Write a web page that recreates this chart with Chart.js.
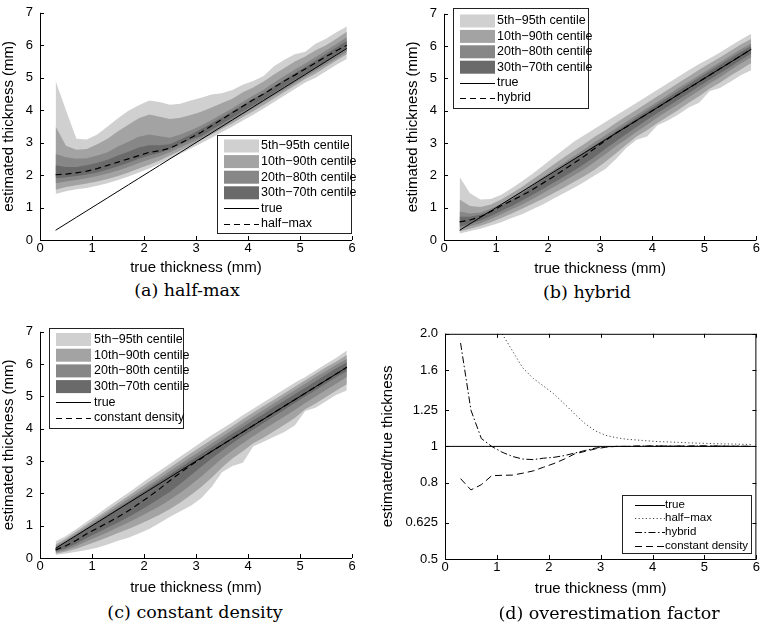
<!DOCTYPE html>
<html>
<head>
<meta charset="utf-8">
<script src="https://cdn.jsdelivr.net/npm/chart.js@4.4.0/dist/chart.umd.min.js"></script>
<style>
  html, body { margin: 0; padding: 0; background: #fff; }
  body { width: 761px; height: 622px; position: relative; overflow: hidden; }
  canvas { position: absolute; }
  .caption { position: absolute; font-family: "DejaVu Serif", "Liberation Serif", serif; font-size: 17.5px; line-height: 20px; color: #000; white-space: nowrap; transform: translateX(-50%); }
</style>
</head>
<body>
<canvas id="chartA"></canvas>
<canvas id="chartB"></canvas>
<canvas id="chartC"></canvas>
<canvas id="chartD"></canvas>
<div class="caption" style="left:187px; top:280px">(a) half-max</div>
<div class="caption" style="left:587px; top:282px">(b) hybrid</div>
<div class="caption" style="left:195px; top:602px">(c) constant density</div>
<div class="caption" style="left:609px; top:603px">(d) overestimation factor</div>
<script>
// ---- data ----
const thickness = [0.3, 0.5, 0.7, 0.9, 1.1, 1.3, 1.5, 1.7, 1.9, 2.1, 2.3, 2.5, 2.7, 2.9, 3.1, 3.3, 3.5, 3.7, 3.9, 4.1, 4.3, 4.5, 4.7, 4.9, 5.1, 5.3, 5.5, 5.7, 5.9];
const xTicks = [0, 1, 2, 3, 4, 5, 6];
const mmTicks = [0, 1, 2, 3, 4, 5, 6, 7];
const ratioTicks = [0.5, 0.625, 0.8, 1, 1.25, 1.6, 2.0];
const ratioTickLabels = ['0.5', '0.625', '0.8', '1', '1.25', '1.6', '2.0'];
const bandLabels = ['5th\u221295th centile', '10th\u221290th centile', '20th\u221280th centile', '30th\u221270th centile'];
const bandColors = ['#d0d0d0', '#a3a3a3', '#878787', '#6a6a6a'];

// (a) half-max
const hmP95 = [4.9, 4.0, 3.12, 3.1, 3.25, 3.5, 3.75, 3.98, 4.15, 4.3, 4.25, 4.17, 4.2, 4.3, 4.38, 4.48, 4.52, 4.62, 4.78, 4.9, 5.05, 5.35, 5.55, 5.72, 5.8, 6.05, 6.2, 6.4, 6.58];
const hmP90 = [3.5, 2.9, 2.78, 2.8, 2.95, 3.12, 3.35, 3.55, 3.75, 3.87, 3.8, 3.73, 3.77, 3.85, 3.95, 4.08, 4.22, 4.35, 4.55, 4.7, 4.88, 5.1, 5.3, 5.5, 5.65, 5.85, 6.0, 6.2, 6.42];
const hmP80 = [2.65, 2.55, 2.5, 2.52, 2.6, 2.7, 2.88, 3.03, 3.18, 3.25, 3.2, 3.15, 3.25, 3.38, 3.53, 3.7, 3.88, 4.06, 4.26, 4.45, 4.63, 4.85, 5.05, 5.25, 5.44, 5.64, 5.84, 6.04, 6.25];
const hmP70 = [2.3, 2.25, 2.25, 2.3, 2.38, 2.47, 2.6, 2.72, 2.85, 2.92, 2.92, 2.95, 3.1, 3.25, 3.42, 3.6, 3.78, 3.97, 4.16, 4.35, 4.53, 4.74, 4.94, 5.14, 5.33, 5.53, 5.73, 5.93, 6.13];
const hmP30 = [1.9, 1.93, 1.97, 2.02, 2.08, 2.17, 2.27, 2.38, 2.5, 2.6, 2.68, 2.8, 2.95, 3.1, 3.2, 3.4, 3.58, 3.77, 3.96, 4.15, 4.34, 4.54, 4.74, 4.93, 5.12, 5.31, 5.5, 5.7, 5.9];
const hmP20 = [1.75, 1.8, 1.85, 1.9, 1.97, 2.05, 2.14, 2.25, 2.37, 2.48, 2.58, 2.7, 2.86, 3.0, 3.14, 3.32, 3.5, 3.68, 3.87, 4.06, 4.25, 4.45, 4.64, 4.84, 5.03, 5.22, 5.41, 5.6, 5.8];
const hmP10 = [1.55, 1.63, 1.69, 1.74, 1.8, 1.88, 1.97, 2.08, 2.2, 2.32, 2.45, 2.6, 2.76, 2.92, 3.08, 3.25, 3.43, 3.6, 3.79, 3.97, 4.16, 4.36, 4.56, 4.76, 4.96, 5.13, 5.33, 5.53, 5.72];
const hmP5 = [1.42, 1.5, 1.56, 1.6, 1.67, 1.75, 1.85, 1.96, 2.08, 2.2, 2.35, 2.5, 2.66, 2.82, 2.98, 3.15, 3.33, 3.5, 3.68, 3.86, 4.05, 4.25, 4.45, 4.65, 4.85, 5.0, 5.2, 5.4, 5.58];
const hmMedian = [2.01, 2.03, 2.07, 2.12, 2.2, 2.3, 2.4, 2.5, 2.6, 2.7, 2.75, 2.83, 2.98, 3.15, 3.32, 3.52, 3.72, 3.92, 4.12, 4.32, 4.5, 4.7, 4.9, 5.08, 5.27, 5.46, 5.65, 5.83, 6.0];

// (b) hybrid
const hyP95 = [1.95, 1.45, 1.25, 1.27, 1.4, 1.6, 1.82, 2.05, 2.3, 2.55, 2.8, 3.05, 3.25, 3.45, 3.65, 3.85, 4.05, 4.25, 4.45, 4.65, 4.85, 5.05, 5.25, 5.45, 5.62, 5.8, 6.0, 6.2, 6.38];
const hyP90 = [1.25, 1.05, 1.02, 1.1, 1.25, 1.45, 1.65, 1.87, 2.1, 2.33, 2.55, 2.77, 2.98, 3.2, 3.4, 3.62, 3.83, 4.03, 4.24, 4.45, 4.65, 4.86, 5.06, 5.27, 5.46, 5.65, 5.85, 6.05, 6.22];
const hyP80 = [0.88, 0.82, 0.85, 0.97, 1.13, 1.32, 1.52, 1.73, 1.95, 2.17, 2.38, 2.6, 2.81, 3.03, 3.24, 3.45, 3.66, 3.87, 4.08, 4.28, 4.49, 4.7, 4.9, 5.1, 5.3, 5.5, 5.7, 5.9, 6.08];
const hyP70 = [0.72, 0.72, 0.78, 0.9, 1.06, 1.25, 1.45, 1.66, 1.87, 2.08, 2.3, 2.51, 2.72, 2.94, 3.15, 3.36, 3.57, 3.78, 3.99, 4.2, 4.4, 4.61, 4.82, 5.02, 5.22, 5.42, 5.62, 5.82, 6.0];
const hyP30 = [0.42, 0.5, 0.6, 0.74, 0.9, 1.05, 1.22, 1.4, 1.58, 1.77, 1.96, 2.15, 2.36, 2.58, 2.82, 3.05, 3.28, 3.5, 3.72, 3.93, 4.13, 4.34, 4.55, 4.76, 4.96, 5.16, 5.36, 5.57, 5.76];
const hyP20 = [0.35, 0.43, 0.52, 0.65, 0.8, 0.95, 1.1, 1.27, 1.45, 1.63, 1.82, 2.0, 2.2, 2.42, 2.65, 2.9, 3.12, 3.35, 3.57, 3.79, 4.0, 4.2, 4.42, 4.63, 4.84, 5.04, 5.25, 5.46, 5.65];
const hyP10 = [0.27, 0.35, 0.44, 0.55, 0.68, 0.82, 0.97, 1.12, 1.28, 1.45, 1.62, 1.8, 1.98, 2.18, 2.42, 2.68, 2.95, 3.2, 3.4, 3.62, 3.82, 4.02, 4.25, 4.45, 4.68, 4.87, 5.08, 5.28, 5.48];
const hyP5 = [0.2, 0.28, 0.35, 0.45, 0.55, 0.68, 0.8, 0.95, 1.1, 1.28, 1.45, 1.62, 1.8, 2.0, 2.2, 2.5, 2.85, 3.1, 3.2, 3.55, 3.7, 3.88, 4.1, 4.25, 4.6, 4.7, 4.9, 5.1, 5.25];
const hyMedian = [0.56, 0.62, 0.72, 0.88, 1.06, 1.22, 1.38, 1.56, 1.76, 1.96, 2.17, 2.38, 2.6, 2.84, 3.08, 3.3, 3.5, 3.7, 3.9, 4.1, 4.3, 4.5, 4.7, 4.9, 5.1, 5.3, 5.5, 5.7, 5.9];

// (c) constant density
const cdP95 = [0.52, 0.68, 0.9, 1.12, 1.35, 1.58, 1.8, 2.02, 2.25, 2.48, 2.7, 2.92, 3.14, 3.36, 3.58, 3.8, 4.0, 4.2, 4.42, 4.62, 4.82, 5.02, 5.22, 5.42, 5.6, 5.8, 6.0, 6.2, 6.42];
const cdP90 = [0.42, 0.6, 0.82, 1.04, 1.26, 1.48, 1.7, 1.92, 2.14, 2.36, 2.58, 2.8, 3.02, 3.24, 3.45, 3.66, 3.87, 4.08, 4.29, 4.5, 4.7, 4.9, 5.1, 5.3, 5.5, 5.7, 5.9, 6.08, 6.28];
const cdP80 = [0.36, 0.54, 0.75, 0.97, 1.18, 1.4, 1.61, 1.83, 2.04, 2.26, 2.47, 2.69, 2.9, 3.12, 3.33, 3.54, 3.75, 3.96, 4.17, 4.38, 4.58, 4.79, 4.99, 5.19, 5.39, 5.59, 5.79, 5.98, 6.16];
const cdP70 = [0.32, 0.49, 0.7, 0.91, 1.12, 1.33, 1.54, 1.75, 1.96, 2.17, 2.38, 2.59, 2.8, 3.01, 3.22, 3.43, 3.64, 3.85, 4.05, 4.26, 4.46, 4.67, 4.87, 5.07, 5.27, 5.47, 5.67, 5.87, 6.05];
const cdP30 = [0.2, 0.3, 0.45, 0.62, 0.78, 0.94, 1.1, 1.27, 1.45, 1.64, 1.84, 2.05, 2.3, 2.56, 2.82, 3.08, 3.32, 3.55, 3.77, 3.98, 4.18, 4.39, 4.59, 4.8, 5.0, 5.2, 5.4, 5.6, 5.78];
const cdP20 = [0.17, 0.25, 0.37, 0.52, 0.66, 0.8, 0.95, 1.1, 1.26, 1.43, 1.6, 1.8, 2.02, 2.26, 2.52, 2.8, 3.08, 3.33, 3.55, 3.77, 3.98, 4.18, 4.38, 4.58, 4.8, 5.0, 5.2, 5.4, 5.6];
const cdP10 = [0.13, 0.2, 0.29, 0.4, 0.52, 0.64, 0.77, 0.9, 1.04, 1.18, 1.34, 1.52, 1.72, 1.95, 2.2, 2.48, 2.8, 3.08, 3.3, 3.55, 3.72, 3.92, 4.12, 4.33, 4.6, 4.78, 4.98, 5.18, 5.38];
const cdP5 = [0.1, 0.14, 0.19, 0.25, 0.32, 0.42, 0.53, 0.63, 0.76, 0.9, 1.08, 1.28, 1.45, 1.62, 1.85, 2.2, 2.65, 2.85, 2.95, 3.45, 3.6, 3.75, 3.9, 4.1, 4.55, 4.65, 4.85, 5.05, 5.18];
const cdMedian = [0.25, 0.38, 0.55, 0.75, 0.92, 1.09, 1.27, 1.46, 1.68, 1.9, 2.14, 2.4, 2.64, 2.87, 3.08, 3.3, 3.5, 3.7, 3.9, 4.1, 4.3, 4.5, 4.7, 4.9, 5.1, 5.3, 5.5, 5.7, 5.9];

// (d) overestimation factor
const ratioTrueX = [0, 6];
const ratioTrueY = [1, 1];
const halfMaxRatio = [6.7, 4.06, 2.96, 2.36, 2.0, 1.8, 1.62, 1.52, 1.45, 1.38, 1.3, 1.22, 1.15, 1.1, 1.07, 1.055, 1.045, 1.04, 1.035, 1.03, 1.028, 1.025, 1.022, 1.02, 1.018, 1.016, 1.015, 1.013, 1.012];
const hybridRatio = [1.89, 1.25, 1.05, 1.0, 0.965, 0.94, 0.925, 0.922, 0.93, 0.935, 0.945, 0.96, 0.975, 0.99, 0.998, 1.0, 1.0, 1.002, 1.002, 1.003, 1.002, 1.002, 1.001, 1.003, 1.002, 1.002, 1.001, 1.001, 1.0];
const constDensityRatio = [0.82, 0.765, 0.79, 0.835, 0.837, 0.838, 0.848, 0.86, 0.88, 0.9, 0.925, 0.955, 0.97, 0.985, 0.995, 1.0, 1.0, 1.001, 1.002, 1.002, 1.001, 1.002, 1.002, 1.003, 1.002, 1.002, 1.001, 1.001, 1.0];

const TICK_SIZE = 13;
const TITLE_SIZE = 15;

Chart.defaults.font.family = '"Liberation Sans", Arial, Helvetica, sans-serif';
Chart.defaults.color = '#000';

const pts = (xs, ys) => xs.map((x, i) => ({ x, y: ys[i] }));

// axis lines + inward tick marks, like the matlab figure
function makeFrame(boxed) {
  return {
    id: 'frame',
    afterDatasetsDraw(chart) {
      const { ctx, chartArea: a, scales: { x, y } } = chart;
      ctx.save();
      ctx.strokeStyle = '#000';
      ctx.lineWidth = 1;
      ctx.setLineDash([]);
      ctx.beginPath();
      ctx.moveTo(a.left + 0.5, a.top);
      ctx.lineTo(a.left + 0.5, a.bottom + 0.5);
      ctx.lineTo(a.right, a.bottom + 0.5);
      if (boxed) {
        ctx.moveTo(a.left, a.top + 0.5);
        ctx.lineTo(a.right - 0.5, a.top + 0.5);
        ctx.lineTo(a.right - 0.5, a.bottom);
      }
      x.ticks.forEach(t => {
        const px = Math.round(x.getPixelForValue(t.value)) + 0.5;
        ctx.moveTo(px, a.bottom); ctx.lineTo(px, a.bottom - 4);
        if (boxed) { ctx.moveTo(px, a.top); ctx.lineTo(px, a.top + 4); }
      });
      y.ticks.forEach(t => {
        const py = Math.round(y.getPixelForValue(t.value)) + 0.5;
        ctx.moveTo(a.left, py); ctx.lineTo(a.left + 4, py);
        if (boxed) { ctx.moveTo(a.right, py); ctx.lineTo(a.right - 4, py); }
      });
      ctx.stroke();
      ctx.restore();
    }
  };
}

function makeLegend(cfg) {
  return {
    id: 'boxLegend',
    afterDraw(chart) {
      const ctx = chart.ctx;
      const [l, t, r, b] = cfg.box;
      ctx.save();
      ctx.fillStyle = '#fff';
      ctx.fillRect(l, t, r - l, b - t);
      ctx.strokeStyle = '#222';
      ctx.lineWidth = 1;
      ctx.strokeRect(l + 0.5, t + 0.5, r - l, b - t);
      ctx.font = cfg.fontSize + 'px "Liberation Sans", Arial, sans-serif';
      ctx.textBaseline = 'middle';
      cfg.items.forEach((it, i) => {
        const y = cfg.rowY + i * cfg.rowStep;
        if (it.fill) {
          ctx.fillStyle = it.fill;
          ctx.fillRect(cfg.swatchX, y - cfg.swatchH / 2, cfg.swatchW, cfg.swatchH);
        } else {
          ctx.strokeStyle = it.color;
          ctx.lineWidth = it.width || 1;
          ctx.setLineDash(it.dash || []);
          ctx.beginPath();
          ctx.moveTo(cfg.swatchX, Math.round(y) + 0.5);
          ctx.lineTo(cfg.swatchX + cfg.swatchW, Math.round(y) + 0.5);
          ctx.stroke();
          ctx.setLineDash([]);
        }
        ctx.fillStyle = '#000';
        ctx.fillText(it.label, cfg.textX, y);
      });
      ctx.restore();
    }
  };
}

// sizes the canvas so the plot area lands where it is in the figure
function setupCanvas(id, L) {
  const c = document.getElementById(id);
  L.xHeight = L.xTitleY + TITLE_SIZE * 0.6 + 2 - L.chartBottom;
  const w = L.canvasRight - L.canvasLeft;
  const h = Math.round(L.chartBottom + L.xHeight - L.canvasTop);
  c.width = w; c.height = h;
  c.style.left = L.canvasLeft + 'px';
  c.style.top = L.canvasTop + 'px';
  c.style.width = w + 'px';
  c.style.height = h + 'px';
  return c;
}

function legendCfg(L, box, rowY, rowStep, swatchX, swatchW, swatchH, textX, fontSize) {
  return {
    box: [box[0] - L.canvasLeft, box[1] - L.canvasTop, box[2] - L.canvasLeft, box[3] - L.canvasTop],
    rowY: rowY - L.canvasTop, rowStep, swatchX: swatchX - L.canvasLeft, swatchW, swatchH,
    textX: textX - L.canvasLeft, fontSize, items: []
  };
}

function scalesFor(L, yOpts) {
  return {
    x: {
      type: 'linear', min: 0, max: 6,
      afterBuildTicks: s => { s.ticks = xTicks.map(v => ({ value: v })); },
      afterFit: s => { s.height = L.xHeight; },
      grid: { display: false, drawTicks: false },
      border: { display: false },
      ticks: { font: { size: TICK_SIZE }, padding: 1, maxRotation: 0, color: '#000' },
      title: { display: true, text: 'true thickness (mm)', font: { size: TITLE_SIZE }, padding: { top: 0, bottom: 2 }, color: '#000' }
    },
    y: Object.assign({
      afterFit: s => { s.width = L.chartLeft - L.canvasLeft; },
      grid: { display: false, drawTicks: false },
      border: { display: false },
      ticks: { font: { size: TICK_SIZE }, padding: 7, color: '#000' },
    }, yOpts)
  };
}

function layoutPadding(L) {
  return { left: 0, top: L.chartTop - L.canvasTop, right: L.canvasRight - L.chartRight, bottom: 0 };
}

function makeBandChart(id, L, bands, median, medianLabel, legend) {
  const canvas = setupCanvas(id, L);
  const edge = { borderColor: 'rgba(0,0,0,0)', borderWidth: 0, pointRadius: 0, tension: 0 };
  const datasets = [
    { label: 'true', data: pts(thickness, thickness), borderColor: '#000', borderWidth: 1, pointRadius: 0, fill: false, order: 0 },
    { label: medianLabel, data: pts(thickness, median), borderColor: '#000', borderWidth: 1.2, borderDash: [6, 4], pointRadius: 0, fill: false, order: 1 },
    Object.assign({ label: bandLabels[3], data: pts(thickness, bands.p70), backgroundColor: bandColors[3], fill: 3, order: 2 }, edge),
    Object.assign({ label: 'p30', data: pts(thickness, bands.p30), fill: false, order: 2 }, edge),
    Object.assign({ label: bandLabels[2], data: pts(thickness, bands.p80), backgroundColor: bandColors[2], fill: 5, order: 3 }, edge),
    Object.assign({ label: 'p20', data: pts(thickness, bands.p20), fill: false, order: 3 }, edge),
    Object.assign({ label: bandLabels[1], data: pts(thickness, bands.p90), backgroundColor: bandColors[1], fill: 7, order: 4 }, edge),
    Object.assign({ label: 'p10', data: pts(thickness, bands.p10), fill: false, order: 4 }, edge),
    Object.assign({ label: bandLabels[0], data: pts(thickness, bands.p95), backgroundColor: bandColors[0], fill: 9, order: 5 }, edge),
    Object.assign({ label: 'p5', data: pts(thickness, bands.p5), fill: false, order: 5 }, edge)
  ];
  legend.items = bandLabels.map((lab, i) => ({ label: lab, fill: bandColors[i] }))
    .concat([{ label: 'true', color: '#000', width: 1 }, { label: medianLabel, color: '#000', width: 1.2, dash: [6, 4] }]);
  return new Chart(canvas, {
    type: 'line',
    data: { datasets },
    options: {
      responsive: false, animation: false, devicePixelRatio: 1, events: [],
      layout: { padding: layoutPadding(L) },
      plugins: { legend: { display: false }, tooltip: { enabled: false } },
      scales: scalesFor(L, {
        type: 'linear', min: 0, max: 7,
        afterBuildTicks: s => { s.ticks = mmTicks.map(v => ({ value: v })); },
        title: { display: true, text: 'estimated thickness (mm)', font: { size: TITLE_SIZE }, padding: 0, color: '#000' }
      })
    },
    plugins: [makeFrame(false), makeLegend(legend)]
  });
}

// ---- panel placement (page pixels) ----
const LA = { canvasLeft: 0, canvasRight: 380, canvasTop: -2, chartLeft: 40, chartRight: 352, chartTop: 6, chartBottom: 240, xTitleY: 268 };
const LB = { canvasLeft: 404, canvasRight: 761, canvasTop: -1, chartLeft: 444, chartRight: 757, chartTop: 7, chartBottom: 240, xTitleY: 269 };
const LC = { canvasLeft: 0, canvasRight: 380, canvasTop: 317, chartLeft: 40, chartRight: 352, chartTop: 325, chartBottom: 558, xTitleY: 588 };
const LD = { canvasLeft: 379, canvasRight: 761, canvasTop: 319, chartLeft: 445, chartRight: 757, chartTop: 327, chartBottom: 559, xTitleY: 589 };

makeBandChart('chartA', LA,
  { p5: hmP5, p10: hmP10, p20: hmP20, p30: hmP30, p70: hmP70, p80: hmP80, p90: hmP90, p95: hmP95 },
  hmMedian, 'half\u2212max',
  legendCfg(LA, [217, 135, 351, 233], 146, 15.6, 224, 35, 13, 261, 12.5));

makeBandChart('chartB', LB,
  { p5: hyP5, p10: hyP10, p20: hyP20, p30: hyP30, p70: hyP70, p80: hyP80, p90: hyP90, p95: hyP95 },
  hyMedian, 'hybrid',
  legendCfg(LB, [453, 8, 588, 108], 21, 15.4, 460, 35, 13, 497, 12.5));

makeBandChart('chartC', LC,
  { p5: cdP5, p10: cdP10, p20: cdP20, p30: cdP30, p70: cdP70, p80: cdP80, p90: cdP90, p95: cdP95 },
  cdMedian, 'constant density',
  legendCfg(LC, [49, 328, 183, 428], 339.5, 15.7, 56, 35, 13, 94, 12.5));

// (d) ratio panel
(function () {
  const L = LD;
  const canvas = setupCanvas('chartD', L);
  const styles = {
    halfMax: { color: '#444', width: 1, dash: [1.2, 2.4] },
    hybrid: { color: '#000', width: 1, dash: [7, 2.5, 1.5, 2.5] },
    constant: { color: '#000', width: 1, dash: [7, 4] }
  };
  const datasets = [
    { label: 'true', data: pts(ratioTrueX, ratioTrueY), borderColor: '#000', borderWidth: 1, pointRadius: 0 },
    { label: 'half\u2212max', data: pts(thickness, halfMaxRatio), borderColor: styles.halfMax.color, borderWidth: 1, borderDash: styles.halfMax.dash, pointRadius: 0 },
    { label: 'hybrid', data: pts(thickness, hybridRatio), borderColor: styles.hybrid.color, borderWidth: 1, borderDash: styles.hybrid.dash, pointRadius: 0 },
    { label: 'constant density', data: pts(thickness, constDensityRatio), borderColor: styles.constant.color, borderWidth: 1, borderDash: styles.constant.dash, pointRadius: 0 }
  ];
  const legend = legendCfg(L, [622, 495, 751, 553], 504.5, 13.7, 635, 30, 0, 665, 11.5);
  legend.items = [
    { label: 'true', color: '#000', width: 1 },
    { label: 'half\u2212max', color: styles.halfMax.color, width: 1, dash: styles.halfMax.dash },
    { label: 'hybrid', color: '#000', width: 1, dash: styles.hybrid.dash },
    { label: 'constant density', color: '#000', width: 1, dash: styles.constant.dash }
  ];
  new Chart(canvas, {
    type: 'line',
    data: { datasets },
    options: {
      responsive: false, animation: false, devicePixelRatio: 1, events: [],
      layout: { padding: layoutPadding(L) },
      plugins: { legend: { display: false }, tooltip: { enabled: false } },
      scales: scalesFor(L, {
        type: 'logarithmic', min: 0.5, max: 2,
        afterBuildTicks: s => { s.ticks = ratioTicks.map(v => ({ value: v })); },
        ticks: {
          font: { size: TICK_SIZE }, padding: 7, color: '#000',
          callback: v => ratioTickLabels[ratioTicks.indexOf(v)]
        },
        title: { display: true, text: 'estimated/true thickness', font: { size: TITLE_SIZE }, padding: 0, color: '#000' }
      })
    },
    plugins: [makeFrame(true), makeLegend(legend)]
  });
})();
</script>
</body>
</html>
